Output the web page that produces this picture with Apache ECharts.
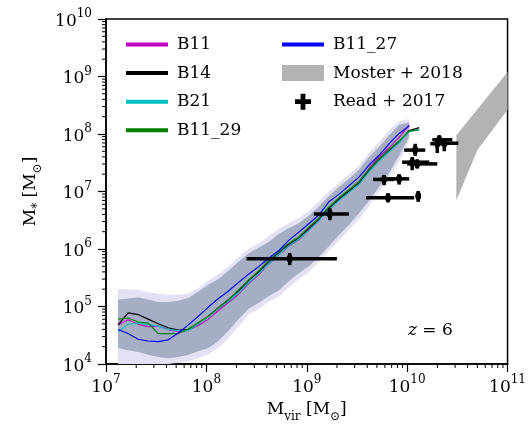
<!DOCTYPE html>
<html>
<head>
<meta charset="utf-8">
<script src="https://cdn.jsdelivr.net/npm/echarts@6/dist/echarts.min.js"></script>
<style>
html, body { margin: 0; background: #fff; }
#chart { width: 529px; height: 432px; }
</style>
</head>
<body>
<div id="chart"></div>
<script>
// all values are log10 (z = 6)
var logMvir = [7.12, 7.22, 7.32, 7.42, 7.52, 7.62, 7.72, 7.82, 7.92, 8.02, 8.12, 8.22, 8.32, 8.42, 8.52, 8.62,
    8.72, 8.82, 8.92, 9.02, 9.12, 9.22, 9.32, 9.42, 9.52, 9.62, 9.72, 9.82, 9.92, 10.02, 10.12];

var mstarB11 = [4.68, 4.77, 4.69, 4.65, 4.66, 4.60, 4.56, 4.59, 4.67, 4.78, 4.93, 5.07, 5.21, 5.40, 5.55, 5.74,
    5.90, 6.05, 6.16, 6.33, 6.50, 6.70, 6.86, 7.02, 7.17, 7.40, 7.60, 7.76, 7.94, 8.16, null];
var mstarB14 = [4.68, 4.89, 4.86, 4.78, 4.70, 4.63, 4.59, 4.60, 4.70, 4.83, 4.98, 5.12, 5.27, 5.45, 5.60, 5.78,
    5.94, 6.08, 6.19, 6.36, 6.52, 6.71, 6.87, 7.01, 7.15, 7.36, 7.55, 7.71, 7.86, 8.06, 8.11];
var mstarB21 = [4.56, 4.69, 4.71, 4.69, 4.66, 4.60, 4.58, 4.58, 4.70, 4.82, 4.97, 5.09, 5.24, 5.41, 5.57, 5.74,
    5.90, 6.05, 6.17, 6.32, 6.49, 6.68, 6.84, 6.98, 7.12, 7.34, 7.53, 7.69, 7.85, 8.04, 8.08];
var mstarB11_29 = [4.78, 4.80, 4.73, 4.71, 4.53, 4.53, 4.53, 4.61, 4.72, 4.83, 4.98, 5.11, 5.29, 5.46, 5.62, 5.80,
    5.95, 6.10, 6.21, 6.38, 6.54, 6.73, 6.89, 7.03, 7.17, 7.39, 7.57, 7.73, 7.88, 8.05, 8.07];
var mstarB11_27 = [4.60, 4.53, 4.43, 4.40, 4.39, 4.42, 4.54, 4.68, 4.83, 4.99, 5.14, 5.27, 5.42, 5.56, 5.69, 5.84,
    5.97, 6.15, 6.29, 6.44, 6.59, 6.82, 6.95, 7.10, 7.25, 7.46, 7.63, 7.83, 8.01, 8.14, null];

// scatter of the runs (overlapping shaded regions)
var scatterHi = [5.12, 5.14, 5.16, 5.12, 5.08, 5.08, 5.10, 5.15, 5.26, 5.38, 5.48, 5.62, 5.78, 5.92, 6.02, 6.12,
    6.26, 6.36, 6.45, 6.58, 6.74, 6.92, 7.08, 7.22, 7.38, 7.60, 7.78, 7.98, 8.16, 8.20, null];
var scatterLo = [4.28, 4.24, 4.21, 4.16, 4.12, 4.10, 4.12, 4.16, 4.22, 4.28, 4.40, 4.58, 4.78, 4.96, 5.06, 5.18,
    5.28, 5.44, 5.58, 5.70, 5.86, 6.05, 6.24, 6.42, 6.62, 6.84, 7.08, 7.32, 7.62, 7.95, null];
var outerHi = [5.30, 5.30, 5.29, 5.25, 5.22, 5.20, 5.21, 5.22, 5.32, 5.45, 5.56, 5.70, 5.86, 6.00, 6.10, 6.22,
    6.35, 6.45, 6.54, 6.66, 6.82, 7.00, 7.15, 7.30, 7.45, 7.68, 7.86, 8.06, 8.22, 8.26, null];
var outerLo = [4.0, 4.0, 4.0, 4.0, 4.0, 4.0, 4.02, 4.05, 4.10, 4.17, 4.28, 4.45, 4.65, 4.86, 4.96, 5.08,
    5.17, 5.33, 5.47, 5.60, 5.78, 5.96, 6.15, 6.33, 6.52, 6.75, 7.00, 7.25, 7.52, 7.88, null];

// Moster + 2018 band
var mosterMvir = [10.49, 10.70, 11.0];
var mosterLo = [6.85, 7.72, 8.42];
var mosterHi = [7.98, 8.43, 9.08];

// Read + 2017 dwarfs
var readMvir = [8.83, 9.23, 9.77, 9.92, 9.81, 10.11, 10.05, 10.10, 10.08, 10.30, 10.32, 10.37];
var readMvirLo = [8.40, 9.07, 9.66, 9.80, 9.59, 10.09, 9.95, 10.00, 9.97, 10.23, 10.25, 10.28];
var readMvirHi = [9.30, 9.42, 9.87, 10.02, 10.07, 10.13, 10.22, 10.30, 10.18, 10.40, 10.45, 10.51];
var readMstar = [5.83, 6.61, 7.21, 7.22, 6.89, 6.92, 7.51, 7.48, 7.72, 7.83, 7.90, 7.84];
var readMstarLo = [5.72, 6.50, 7.11, 7.12, 6.81, 6.82, 7.37, 7.40, 7.62, 7.67, 7.82, 7.70];
var readMstarHi = [5.93, 6.71, 7.29, 7.30, 6.97, 7.01, 7.60, 7.56, 7.83, 7.90, 7.98, 7.92];

var FONT = 'DejaVu Serif';
var LINE_ICON = 'path://M0,0H42V4H0Z';

var chart = echarts.init(document.getElementById('chart'));

function pow10(v){ return Math.pow(10, v); }

function powLabel(v){
    return '{b|10}{s|' + Math.round(Math.log10(v)) + '}';
}

var labelRich = {
    b: { fontFamily: FONT, fontSize: 17, color: '#000', lineHeight: 22, verticalAlign: 'bottom' },
    s: { fontFamily: FONT, fontSize: 12, color: '#000', lineHeight: 12, verticalAlign: 'top' }
};
var nameRich = {
    b: { fontFamily: FONT, fontSize: 17, color: '#000', lineHeight: 22, verticalAlign: 'top' },
    sub: { fontFamily: FONT, fontSize: 12, color: '#000', lineHeight: 12, verticalAlign: 'bottom' }
};

function bandSeries(xs, lo, hi, color, z){
    return {
        type: 'custom', silent: true, clip: true, z: z,
        data: [[1e8, 1e6]],
        renderItem: function(params, api){
            var top = [], bot = [];
            xs.forEach(function(x, i){
                if (hi[i] == null) return;
                top.push(api.coord([pow10(x), pow10(hi[i])]));
                bot.unshift(api.coord([pow10(x), pow10(lo[i])]));
            });
            return { type: 'polygon', shape: { points: top.concat(bot) }, style: { fill: color } };
        }
    };
}

function runSeries(name, ys, color){
    var data = [];
    logMvir.forEach(function(x, i){
        if (ys[i] != null) data.push([pow10(x), pow10(ys[i])]);
    });
    return {
        name: name, type: 'line', data: data, symbol: 'none', z: 5,
        itemStyle: { color: color },
        lineStyle: { color: color, width: 1.2 }
    };
}

// minor ticks 2..9 x 10^n on both log axes
var minorTicks = [];
for (var e = 7; e < 11; e++) for (var m = 2; m < 10; m++) minorTicks.push([m * pow10(e), 1e4, 0]);
for (var e2 = 4; e2 < 10; e2++) for (var m2 = 2; m2 < 10; m2++) minorTicks.push([1e7, m2 * pow10(e2), 1]);

var series = [
    bandSeries(logMvir, outerLo, outerHi, '#e3e1f3', 1),
    bandSeries(logMvir, scatterLo, scatterHi, '#a6aec6', 2),
    runSeries('B11', mstarB11, '#bf00bf'),
    runSeries('B14', mstarB14, '#000000'),
    runSeries('B21', mstarB21, '#00bfbf'),
    runSeries('B11_29', mstarB11_29, '#008000'),
    runSeries('B11_27', mstarB11_27, '#0000ff'),
    {
        name: 'Moster + 2018', type: 'custom', silent: true, clip: true, z: 3,
        itemStyle: { color: '#b3b3b3' },
        data: [[1e10, 1e8]],
        renderItem: function(params, api){
            var top = [], bot = [];
            mosterMvir.forEach(function(x, i){
                top.push(api.coord([pow10(x), pow10(mosterHi[i])]));
                bot.unshift(api.coord([pow10(x), pow10(mosterLo[i])]));
            });
            return { type: 'polygon', shape: { points: top.concat(bot) }, style: { fill: '#b3b3b3' } };
        }
    },
    {
        name: 'Read + 2017', type: 'custom', silent: true, z: 6,
        itemStyle: { color: '#000' },
        data: readMvir.map(function(x, i){
            return [pow10(x), pow10(readMstar[i]), pow10(readMvirLo[i]), pow10(readMvirHi[i]),
                pow10(readMstarLo[i]), pow10(readMstarHi[i])];
        }),
        renderItem: function(params, api){
            var c = api.coord([api.value(0), api.value(1)]);
            var l = api.coord([api.value(2), api.value(1)]);
            var r = api.coord([api.value(3), api.value(1)]);
            var b = api.coord([api.value(0), api.value(4)]);
            var t = api.coord([api.value(0), api.value(5)]);
            return { type: 'group', children: [
                { type: 'line', shape: { x1: l[0], y1: l[1], x2: r[0], y2: r[1] }, style: { stroke: '#000', lineWidth: 3.5 } },
                { type: 'line', shape: { x1: b[0], y1: b[1], x2: t[0], y2: t[1] }, style: { stroke: '#000', lineWidth: 3.5 } },
                { type: 'ellipse', shape: { cx: c[0], cy: c[1], rx: 3, ry: 4.5 }, style: { fill: '#000' } }
            ]};
        }
    },
    {
        type: 'custom', silent: true, clip: false, z: 10,
        data: minorTicks,
        renderItem: function(params, api){
            var p = api.coord([api.value(0), api.value(1)]);
            var isY = api.value(2) === 1;
            return { type: 'line',
                shape: isY ? { x1: p[0], y1: p[1], x2: p[0] - 4, y2: p[1] } : { x1: p[0], y1: p[1], x2: p[0], y2: p[1] + 4 },
                style: { stroke: '#000', lineWidth: 1 } };
        }
    }
];

var legendText = { fontFamily: FONT, fontSize: 17, color: '#000', padding: [0, 0, 0, 4] };

chart.setOption({
    animation: false,
    backgroundColor: '#fff',
    grid: { left: 106, right: 20, top: 19, bottom: 68, show: true, borderColor: '#000', borderWidth: 1.5 },
    legend: [
        { left: 121, top: 31, orient: 'vertical', itemWidth: 42, itemHeight: 16, itemGap: 11.6,
          data: [{ name: 'B11', icon: LINE_ICON }, { name: 'B14', icon: LINE_ICON },
                 { name: 'B21', icon: LINE_ICON }, { name: 'B11_29', icon: LINE_ICON }],
          textStyle: legendText, lineStyle: { width: 3.5 } },
        { left: 277, top: 31, orient: 'vertical', itemWidth: 42, itemHeight: 16, itemGap: 11.6,
          data: [{ name: 'B11_27', icon: LINE_ICON }, { name: 'Moster + 2018', icon: 'rect' },
                 { name: 'Read + 2017', icon: 'path://M7,0H13V7H20V13H13V20H7V13H0V7H7Z' }],
          textStyle: legendText, lineStyle: { width: 3.5 } }
    ],
    xAxis: {
        type: 'log', logBase: 10, min: 1e7, max: 1e11, splitNumber: 4,
        axisLine: { lineStyle: { color: '#000', width: 1.5 } },
        axisTick: { length: 8, lineStyle: { color: '#000', width: 1.2 } },
        splitLine: { show: false },
        axisLabel: { margin: 10, formatter: powLabel, rich: labelRich },
        name: '{b|M}{sub|vir}{b| [M}{sub|⊙}{b|]}', nameLocation: 'middle', nameGap: 34,
        nameTextStyle: { fontFamily: FONT, fontSize: 17, color: '#000', rich: nameRich }
    },
    yAxis: {
        type: 'log', logBase: 10, min: 1e4, max: 1e10, splitNumber: 6,
        axisLine: { lineStyle: { color: '#000', width: 1.5 } },
        axisTick: { length: 8, lineStyle: { color: '#000', width: 1.2 } },
        splitLine: { show: false },
        axisLabel: { margin: 14, formatter: powLabel, rich: labelRich },
        name: '{b|M}{sub|*}{b| [M}{sub|⊙}{b|]}', nameLocation: 'middle', nameGap: 62,
        nameTextStyle: { fontFamily: FONT, fontSize: 17, color: '#000', rich: nameRich }
    },
    graphic: [{
        type: 'text', left: 408, top: 322, z: 20,
        style: { text: '{i|z} = 6', fill: '#000', font: '17px ' + FONT,
                 rich: { i: { fontStyle: 'italic', fontFamily: FONT, fontSize: 17 } } }
    }],
    series: series
});
</script>
</body>
</html>
